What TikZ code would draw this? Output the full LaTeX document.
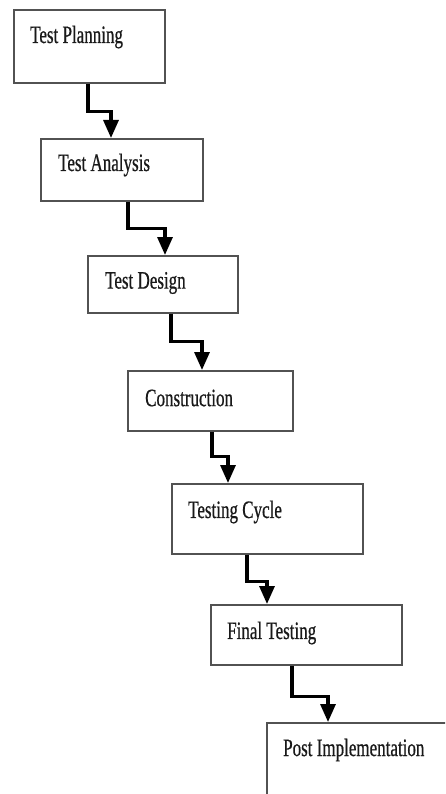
\documentclass[tikz,border=0pt]{standalone}
\usepackage{fontspec}
\usetikzlibrary{arrows.meta}
\newfontfamily\stagefont[FakeStretch=0.68,FakeBold=0.6]{Liberation Serif}
\begin{document}
\begin{tikzpicture}[x=1pt,y=-1pt,
  stagebox/.style={draw=black!68,line width=1.6pt,fill=white,inner sep=0pt,anchor=north west},
  stagetext/.style={anchor=west,inner sep=0pt,font=\stagefont\fontsize{25}{28}\selectfont,text=black!90},
  flow/.style={draw=black,line width=3.2pt,-{Triangle[width=15pt,length=18pt]}}]
\useasboundingbox (0,0) rectangle (445,794);
\clip (0,0) rectangle (445,794);
\fill[white] (0,0) rectangle (445,794);
% stages
\node[stagebox,minimum width=151,minimum height=73] (b1) at (13,9) {};
\node[stagebox,minimum width=162,minimum height=62] (b2) at (40,138) {};
\node[stagebox,minimum width=150,minimum height=57] (b3) at (87,255) {};
\node[stagebox,minimum width=165,minimum height=60] (b4) at (127,370) {};
\node[stagebox,minimum width=191,minimum height=70] (b5) at (171,483) {};
\node[stagebox,minimum width=191,minimum height=60] (b6) at (210,604) {};
\node[stagebox,minimum width=200,minimum height=100] (b7) at (266,722) {};
% labels
\node[stagetext] (t1) at ([xshift=17pt,yshift=-28pt]b1.north west) {Test Planning};
\node[stagetext] (t2) at ([xshift=18pt,yshift=-27pt]b2.north west) {Test Analysis};
\node[stagetext] (t3) at ([xshift=18pt,yshift=-28pt]b3.north west) {Test Design};
\node[stagetext] (t4) at ([xshift=18pt,yshift=-28pt]b4.north west) {Construction};
\node[stagetext] (t5) at ([xshift=17pt,yshift=-29pt]b5.north west) {Testing Cycle};
\node[stagetext] (t6) at ([xshift=17pt,yshift=-29pt]b6.north west) {Final Testing};
\node[stagetext] (t7) at ([xshift=17pt,yshift=-28pt]b7.north west) {Post Implementation};
% step connectors
\draw[flow] ([xshift=75pt]b1.south west) -- ++(0,28) -| ([xshift=71pt]b2.north west);
\draw[flow] ([xshift=88pt]b2.south west) -- ++(0,27) -| ([xshift=78pt]b3.north west);
\draw[flow] ([xshift=84pt]b3.south west) -- ++(0,28) -| ([xshift=75pt]b4.north west);
\draw[flow] ([xshift=85pt]b4.south west) -- ++(0,25) -| ([xshift=57pt]b5.north west);
\draw[flow] ([xshift=76pt]b5.south west) -- ++(0,27) -| ([xshift=57pt]b6.north west);
\draw[flow] ([xshift=82pt]b6.south west) -- ++(0,31) -| ([xshift=62pt]b7.north west);
\end{tikzpicture}
\end{document}
